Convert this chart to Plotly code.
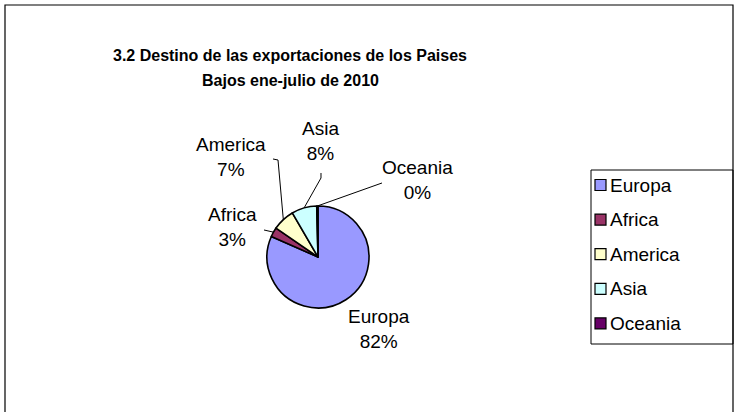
import math
import plotly.graph_objects as go

# ---- data ----
labels = ["Europa", "Africa", "America", "Asia", "Oceania"]
values = [81.6, 3.0, 7.0, 8.0, 0.4]
colors = ["#9999FF", "#993366", "#FFFFCC", "#CCFFFF", "#660066"]
title_lines = ["3.2 Destino de las exportaciones de los Paises", "Bajos ene-julio de 2010"]

# ---- layout helpers (pixel -> paper) ----
W, H = 736, 412
def X(p): return p / W
def Y(p): return 1 - p / H

CX, CY, R = 318, 257, 51
FONT = "Liberation Sans, Arial, sans-serif"

fig = go.Figure(go.Pie(
    labels=labels, values=values, sort=False, direction="clockwise", rotation=0,
    marker=dict(colors=colors, line=dict(color="black", width=1.6)),
    textinfo="none", hoverinfo="label+percent", showlegend=False,
    domain=dict(x=[X(CX - R), X(CX + R)], y=[Y(CY + R), Y(CY - R)]),
))

total = sum(values)
# label centres and leader-line elbows, as offsets (px) from the pie centre
label_off = {"Europa": (61, 72), "Africa": (-86, -30), "America": (-87, -100),
             "Asia": (2, -116), "Oceania": (99, -77)}
leaders = {"Africa": [(-54, -27)], "America": [(-45, -98), (-40, -97)],
           "Asia": [(3, -84), (3, -79)], "Oceania": [(64, -74)]}

shapes = []
annotations = []
cum = 0.0
for lab, v in zip(labels, values):
    mid = 2 * math.pi * (cum + v / 2) / total
    cum += v
    ex, ey = CX + R * math.sin(mid), CY - R * math.cos(mid)
    pct = round(v / total * 100)
    dx, dy = label_off[lab]
    annotations.append(dict(x=X(CX + dx), y=Y(CY + dy), xref="paper", yref="paper",
                            text=f"{lab}<br>{pct}%", showarrow=False,
                            xanchor="center", yanchor="middle",
                            font=dict(family=FONT, size=19, color="black")))
    if lab in leaders:
        pts = [(CX + a, CY + b) for a, b in leaders[lab]] + [(ex, ey)]
        path = "M " + " L ".join(f"{X(px):.5f},{Y(py):.5f}" for px, py in pts)
        shapes.append(dict(type="path", path=path, xref="paper", yref="paper",
                           line=dict(color="black", width=1)))

# chart border
shapes.append(dict(type="rect", xref="paper", yref="paper", x0=X(5), y0=Y(425), x1=X(733), y1=Y(5),
                   line=dict(color="black", width=1.2), fillcolor="rgba(0,0,0,0)"))
# legend box
LX0, LX1, LY0, LY1 = 591, 733, 170, 344
shapes.append(dict(type="rect", xref="paper", yref="paper", x0=X(LX0), y0=Y(LY1), x1=X(LX1), y1=Y(LY0),
                   line=dict(color="black", width=1), fillcolor="white", layer="below"))
for i, (lab, col) in enumerate(zip(labels, colors)):
    yc = 185 + 34.6 * i
    shapes.append(dict(type="rect", xref="paper", yref="paper", x0=X(LX0 + 4), x1=X(LX0 + 15),
                       y0=Y(yc + 5.5), y1=Y(yc - 5.5), fillcolor=col, line=dict(color="black", width=1.2)))
    annotations.append(dict(x=X(LX0 + 17), y=Y(yc), xref="paper", yref="paper", text=lab,
                            showarrow=False, xanchor="left", yanchor="middle",
                            font=dict(family=FONT, size=19, color="black")))

# title
for j, (line, ty) in enumerate(zip(title_lines, (55, 80))):
    annotations.append(dict(x=X(290), y=Y(ty), xref="paper", yref="paper",
                            text=f"<b>{line}</b>", showarrow=False,
                            xanchor="center", yanchor="middle",
                            font=dict(family=FONT, size=16, color="black")))

fig.update_layout(width=W, height=H, margin=dict(l=0, r=0, t=0, b=0),
                  paper_bgcolor="white", plot_bgcolor="white",
                  shapes=shapes, annotations=annotations, showlegend=False)
fig.write_html("out.html", config={"displayModeBar": False},
               post_script="document.body.style.margin='0';")
